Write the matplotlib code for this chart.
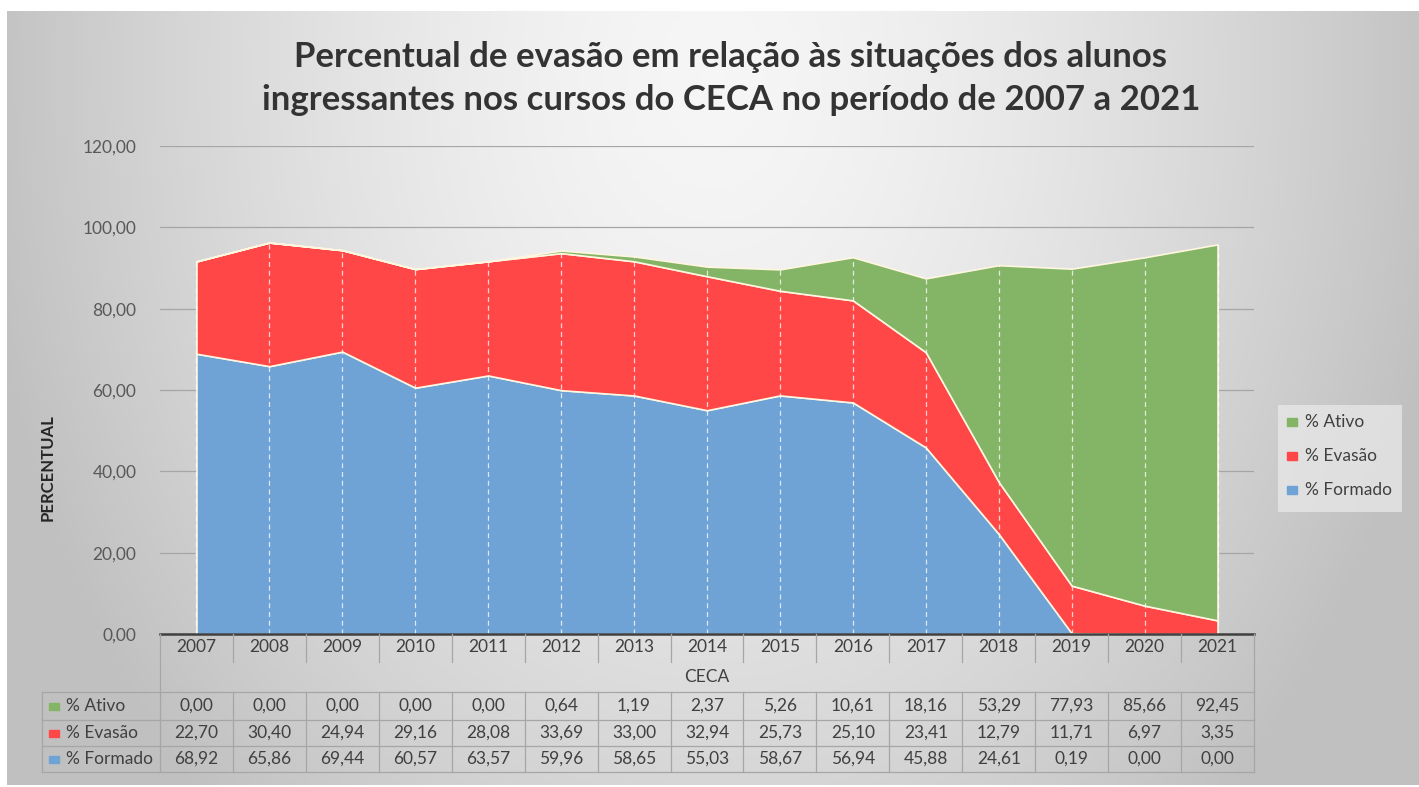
import numpy as np
import matplotlib
matplotlib.use("Agg")
import matplotlib.pyplot as plt
from matplotlib.transforms import blended_transform_factory
from matplotlib.patches import Rectangle

plt.rcParams['font.family'] = ['Lato', 'DejaVu Sans']

years = [str(y) for y in range(2007, 2022)]
ativo = [0.00, 0.00, 0.00, 0.00, 0.00, 0.64, 1.19, 2.37, 5.26, 10.61, 18.16, 53.29, 77.93, 85.66, 92.45]
evasao = [22.70, 30.40, 24.94, 29.16, 28.08, 33.69, 33.00, 32.94, 25.73, 25.10, 23.41, 12.79, 11.71, 6.97, 3.35]
formado = [68.92, 65.86, 69.44, 60.57, 63.57, 59.96, 58.65, 55.03, 58.67, 56.94, 45.88, 24.61, 0.19, 0.00, 0.00]
series_names = ['% Ativo', '% Evasão', '% Formado']
colors = {'% Ativo': '#84B466', '% Evasão': '#FF4747', '% Formado': '#6FA3D6'}

W, H = 1419, 787
fig = plt.figure(figsize=(W / 100, H / 100), dpi=100)
fig.patch.set_facecolor('white')


def fy(py):
    return 1 - py / H


def fx(px):
    return px / W


# gradient background (chart area frame)
bg = fig.add_axes([fx(7), fy(785), fx(1419 - 7), (785 - 11) / H], zorder=-10)
gx, gy = np.meshgrid(np.linspace(-1, 1, 400), np.linspace(0, 1, 250))
d = np.sqrt((gx / 1.05) ** 2 + ((gy - 0.08) / 1.3) ** 2)
d = np.clip(d, 0, 1)
shade = 0.965 - 0.21 * d ** 1.5
bg.imshow(np.dstack([shade, shade, shade]), aspect='auto', extent=[0, 1, 0, 1], origin='upper')
bg.set_axis_off()

x = np.arange(len(years))
ax = fig.add_axes([fx(160), fy(634), fx(1254 - 160), (634 - 146) / H])
ax.set_facecolor('none')
ax.stackplot(x, formado, evasao, ativo,
             colors=[colors['% Formado'], colors['% Evasão'], colors['% Ativo']],
             edgecolor='#FFF6E0', linewidth=1.2, zorder=2)
tops = np.array(formado) + np.array(evasao) + np.array(ativo)
ax.vlines(x, 0, tops, colors='white', linestyles=(0, (4, 3)), linewidth=0.9, alpha=0.75, zorder=3)
ax.set_xlim(-0.5, len(years) - 0.5)
ax.set_ylim(0, 120)
ax.set_yticks(np.arange(0, 121, 20))
ax.set_yticklabels([f"{v:.2f}".replace('.', ',') for v in np.arange(0, 121, 20)],
                   color='#595959', fontsize=12.5)
ax.tick_params(axis='y', length=0, pad=17)
ax.set_xticks([])
ax.grid(axis='y', color='#A6A6A6', linewidth=0.9, zorder=0)
ax.set_axisbelow(True)
for s in ['top', 'right', 'left']:
    ax.spines[s].set_visible(False)
ax.spines['bottom'].set_color('#404040')
ax.spines['bottom'].set_linewidth(1.8)
ax.spines['bottom'].set_zorder(4)

fig.text(fx(48), fy(468), 'PERCENTUAL', rotation=90, ha='center', va='center',
         fontsize=12, fontweight='bold', color='#262626')

fig.suptitle('Percentual de evasão em relação às situações dos alunos\n'
             'ingressantes nos cursos do CECA no período de 2007 a 2021',
             x=fx(731), y=fy(41), ha='center', va='top', fontsize=25,
             fontweight='bold', color='#333333', linespacing=1.42)

# data table below the axis
tr = blended_transform_factory(ax.transData, fig.transFigure)
line_c = '#A6A6A6'
txt_c = '#404040'
fs = 12.5
edges = np.arange(len(years) + 1) - 0.5
for e in edges:
    if e in (edges[0], edges[-1]):
        fig.add_artist(plt.Line2D([e, e], [fy(634), fy(772)], transform=tr, color=line_c, lw=0.9))
    else:
        fig.add_artist(plt.Line2D([e, e], [fy(634), fy(662)], transform=tr, color=line_c, lw=0.9))
        fig.add_artist(plt.Line2D([e, e], [fy(692), fy(772)], transform=tr, color=line_c, lw=0.9))
for i, yr in enumerate(years):
    fig.text(i, fy(647), yr, transform=tr, ha='center', va='center', fontsize=fs, color=txt_c)
fig.text(np.mean(x), fy(677), 'CECA', transform=tr, ha='center', va='center', fontsize=fs, color=txt_c)

row_y = [692, 720, 746, 772]
for ry in row_y:
    fig.add_artist(plt.Line2D([fx(42), fx(1254)], [fy(ry), fy(ry)], color=line_c, lw=0.9))
fig.add_artist(plt.Line2D([fx(42), fx(42)], [fy(692), fy(772)], color=line_c, lw=0.9))

table_rows = [('% Ativo', ativo), ('% Evasão', evasao), ('% Formado', formado)]
for r, (name, vals) in enumerate(table_rows):
    cy = (row_y[r] + row_y[r + 1]) / 2
    fig.add_artist(Rectangle((fx(49), fy(cy + 4)), fx(10), 7 / H, color=colors[name]))
    fig.text(fx(66), fy(cy), name, ha='left', va='center', fontsize=fs, color=txt_c)
    for i, v in enumerate(vals):
        fig.text(i, fy(cy), f"{v:.2f}".replace('.', ','), transform=tr,
                 ha='center', va='center', fontsize=fs, color=txt_c)

# legend on the right
leg_box = Rectangle((fx(1278), fy(512)), fx(1402 - 1278), (512 - 405) / H,
                    facecolor='#EBEBEB', edgecolor='none', alpha=0.7)
fig.add_artist(leg_box)
for k, name in enumerate(series_names):
    ly = 422 + 34 * k
    fig.add_artist(Rectangle((fx(1287), fy(ly + 4)), fx(10), 8 / H, color=colors[name]))
    fig.text(fx(1305), fy(ly), name, ha='left', va='center', fontsize=fs, color=txt_c)

fig.savefig('out.png', dpi=100, facecolor='white')
